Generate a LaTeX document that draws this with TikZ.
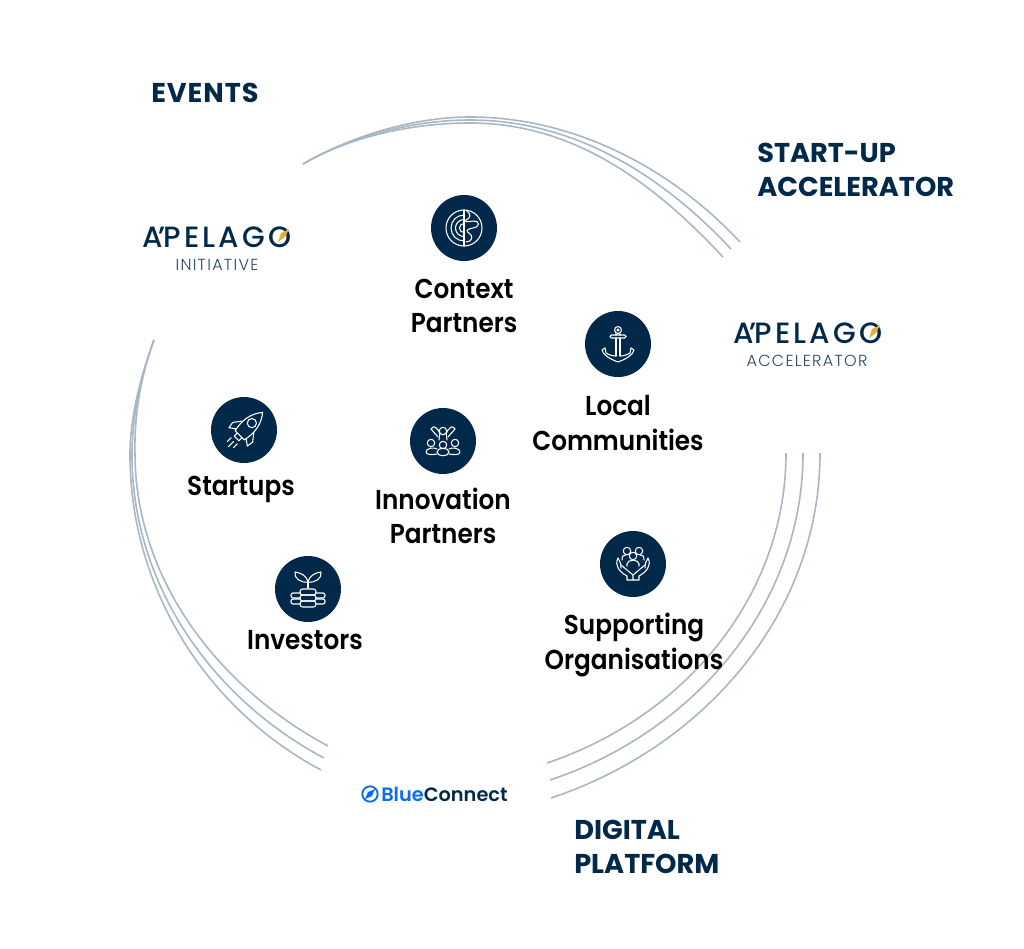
\documentclass[tikz,border=0pt]{standalone}
\usepackage{fontspec}
\setmainfont{Poppins}
\newfontfamily\labelfont[FakeStretch=0.905]{Poppins SemiBold}
\newfontfamily\logofont{Poppins Medium}
\newfontfamily\logolight{Poppins Light}
\newfontfamily\brandfont{Poppins SemiBold}
\definecolor{navy}{HTML}{02284A}
\definecolor{arcgrey}{HTML}{A9B6C4}
\definecolor{gold}{HTML}{E8AE3C}
\definecolor{bluelink}{HTML}{0A6CF0}
\newcommand{\apelago}{A\kern-3.5pt’\kern-1.5pt PELAGO}
\tikzset{
  hub/.style={circle,fill=navy,minimum size=49.5pt,inner sep=0pt},
  tag/.style={font=\labelfont\fontsize{20.5}{25.9}\selectfont,align=center,text=black,inner sep=0pt},
  heading/.style={font=\bfseries\fontsize{20.4}{25.9}\selectfont,align=left,text=navy,anchor=west,inner sep=0pt},
  logo/.style={font=\logofont\fontsize{22}{24}\selectfont,text=navy,inner sep=0pt},
  sublogo/.style={font=\logolight\fontsize{12}{14}\selectfont,text=navy!85,inner sep=0pt},
  ring/.style={arcgrey,line width=1.2pt},
  glyph/.style={white,line width=0.8pt,line cap=round,line join=round},
  needle/.style={fill=gold,draw=none}
}
\begin{document}
\begin{tikzpicture}[x=0.75pt,y=-0.75pt]
    \useasboundingbox (0,0) rectangle (1024,949);
    % Arcs, top
    \draw[ring] (303,164) .. controls (351,136) and (414,117) .. (470,117) .. controls (573,117) and (670,167) .. (740,242);
    \draw[ring] (303,164) .. controls (351,136) and (414,120) .. (470,120) .. controls (573,120) and (661,174) .. (731,249);
    \draw[ring] (303,164) .. controls (351,136) and (414,123) .. (470,123) .. controls (573,123) and (653,182) .. (723,257);
    % Arcs, left
    \draw[ring] (154,340) .. controls (140,378) and (130,418) .. (130,455) .. controls (130,587) and (205,708) .. (321,770);
    \draw[ring] (154,340) .. controls (140,378) and (132,418) .. (132,455) .. controls (132,584) and (211,698) .. (324,758);
    \draw[ring] (154,340) .. controls (140,378) and (134,418) .. (135,455) .. controls (136,580) and (218,687) .. (328,746);
    % Arcs, right
    \draw[ring] (786,453) .. controls (786,597) and (684,717) .. (547,763);
    \draw[ring] (803,453) .. controls (803,605) and (694,732) .. (550,780);
    \draw[ring] (820,453) .. controls (820,614) and (704,747) .. (551,798);
    % Headings
    \node[heading] (events) at (151,93) {\addfontfeature{LetterSpace=3.5}EVENTS};
    \node[heading] (accelhead) at (757,170) {START-UP\\ACCELERATOR};
    \node[heading] (platform) at (574,847) {DIGITAL\\PLATFORM};
    % Logos
    \node[logo] (initlogo) at (217,237) {\addfontfeature{LetterSpace=11}\apelago};
    \node[sublogo] (initsub) at (217,265) {\addfontfeature{LetterSpace=8}INITIATIVE};
    \fill[needle] (289,229) -- (285,237) -- (278,242) -- (281,233) -- cycle;
    \node[logo] (accellogo) at (808,333) {\addfontfeature{LetterSpace=11}\apelago};
    \node[sublogo] (accelsub) at (807,361) {\addfontfeature{LetterSpace=8}ACCELERATOR};
    \fill[needle] (880,325) -- (876,333) -- (869,338) -- (872,329) -- cycle;
    % Blue Connect
    \node[circle,draw=bluelink,line width=1.4pt,minimum size=11.5pt,inner sep=0pt] (bluering) at (370,794) {};
    \fill[bluelink] (375,789) -- (372,796) -- (365,799) -- (368,792) -- cycle;
    \node[font=\brandfont\fontsize{14.5}{16}\selectfont,anchor=west,inner sep=0pt] (blueword) at (381,794) {\textcolor{bluelink}{Blue}\textcolor{navy}{Connect}};
    % Hubs
    \node[hub] (context) at (464,228) {};
    \node[hub] (local) at (618,344) {};
    \node[hub] (startups) at (244,430) {};
    \node[hub] (innovation) at (443,441) {};
    \node[hub] (investors) at (308,589) {};
    \node[hub] (supporting) at (633,564) {};
    % Labels
    \node[tag] (contextlab) at (464,306) {Context\\Partners};
    \node[tag] (locallab) at (618,423) {Local\\Communities};
    \node[tag] (startupslab) at (241,489) {Startups};
    \node[tag] (innovationlab) at (443,516) {Innovation\\Partners};
    \node[tag] (investorslab) at (305,640) {Investors};
    \node[tag] (supportinglab) at (634,645) {Supporting\\Organisations};
    % Globe
    \begin{scope}[shift={(context.center)},glyph]
        \draw (0,0) circle (13.5pt);
        \draw (0,-18) -- (0,18);
        \draw (0,-13) arc (90:270:9.75pt);
        \draw (0,-8.5) arc (90:270:6.4pt);
        \draw (0,-4.5) arc (90:270:3.4pt);
        \draw (3,-17) .. controls (7,-14) and (7,-10) .. (2,-8) .. controls (0,-6) and (3,-6) .. (10,-7) .. controls (16,-7) and (16,-1) .. (9,0) .. controls (2,1) and (2,4) .. (5,5) .. controls (10,8) and (8,14) .. (2,14);
    \end{scope}
    % Anchor
    \begin{scope}[shift={(local.center)},glyph]
        \draw (0,-14) circle (2.6pt);
        \draw (0,-14) circle (0.8pt);
        \draw[rounded corners=1pt] (-8,-9) rectangle (8,-6);
        \draw (-2,-10) -- (-2,-9) (2,-10) -- (2,-9);
        \draw (-2,-6) -- (-2,12) (2,-6) -- (2,12);
        \draw (-13,4) -- (-16,6) .. controls (-15,11) and (-8,15) .. (0,18) .. controls (8,15) and (15,11) .. (16,6) -- (13,4);
        \draw (-13,4) -- (-12,9) .. controls (-9,11) and (-5,12) .. (-2,12) (13,4) -- (12,9) .. controls (9,11) and (5,12) .. (2,12);
    \end{scope}
    % Rocket
    \begin{scope}[shift={(245,430)},rotate=-45,scale=1.08,glyph]
        \draw (-6,7) .. controls (-9,-6) and (-6,-16) .. (0,-23) .. controls (6,-16) and (9,-6) .. (6,7) -- cycle;
        \draw (0,-9) circle (3.2pt);
        \draw (-7.5,-4) -- (-13,3) -- (-12,9) -- (-6.5,5);
        \draw (7.5,-4) -- (13,3) -- (12,9) -- (6.5,5);
        \draw (-3,7) -- (-3,11) -- (3,11) -- (3,7);
        \draw (-4,14) -- (-4,19) (0,15) -- (0,22) (4,14) -- (4,19);
    \end{scope}
    % People
    \begin{scope}[shift={(innovation.center)},glyph]
        \draw (0,-10) circle (2.8pt);
        \draw[rounded corners=1.5pt] (-12,-12) -- (-9,-15) -- (-3,-9) -- (-4,-1) (12,-12) -- (9,-15) -- (3,-9) -- (4,-1);
        \draw (-12,-12) -- (-5,-4) (12,-12) -- (5,-4);
        \draw (-12,2) circle (2.8pt) (12,2) circle (2.8pt) (0,4) circle (2.8pt);
        \draw (-6,11) .. controls (-6,6) and (6,6) .. (6,11) .. controls (6,16) and (-6,16) .. (-6,11);
        \draw (-6,13) .. controls (-11,14) and (-17,14) .. (-17,11) .. controls (-17,7) and (-9,6) .. (-6,8);
        \draw (6,13) .. controls (11,14) and (17,14) .. (17,11) .. controls (17,7) and (9,6) .. (6,8);
    \end{scope}
    % Sprout and coins
    \begin{scope}[shift={(investors.center)},glyph]
        \draw (0,-1) -- (0,-9);
        \draw (0,-7) .. controls (-2,-14) and (-7,-16) .. (-13,-17) .. controls (-14,-11) and (-8,-6) .. (0,-7);
        \draw (0,-7) .. controls (2,-14) and (7,-16) .. (13,-17) .. controls (14,-11) and (8,-6) .. (0,-7);
        \foreach \rowy in {0,6,12} {
            \draw[rounded corners=2pt] (-8,\rowy) rectangle (8,\rowy+6);
        }
        \foreach \rowy in {4,10} {
            \draw[rounded corners=1.5pt] (-8,\rowy) -- (-17,\rowy) -- (-17,\rowy+5) -- (-8,\rowy+5);
            \draw[rounded corners=1.5pt] (8,\rowy) -- (17,\rowy) -- (17,\rowy+5) -- (8,\rowy+5);
        }
    \end{scope}
    % Hands
    \begin{scope}[shift={(supporting.center)},glyph]
        \draw (-6,-13) circle (2.8pt) (6,-13) circle (2.8pt) (0,-8) circle (2.8pt);
        \draw (-11,-4) .. controls (-11,-9) and (-9,-9) .. (-7,-9) (11,-4) .. controls (11,-9) and (9,-9) .. (7,-9);
        \draw (-6,0) .. controls (-6,-5) and (6,-5) .. (6,0) -- (6,2) (-6,0) -- (-6,2);
        \draw (-15,-6) .. controls (-19,2) and (-13,8) .. (-6,12) -- (-6,16) -- (6,16) -- (6,12) .. controls (13,8) and (19,2) .. (15,-6) .. controls (13,-3) and (12,0) .. (12,4);
        \draw (-15,-6) .. controls (-13,-3) and (-12,0) .. (-12,4);
        \draw (-12,1) -- (0,11) -- (12,1) (0,11) -- (0,16);
    \end{scope}
\end{tikzpicture}
\end{document}
